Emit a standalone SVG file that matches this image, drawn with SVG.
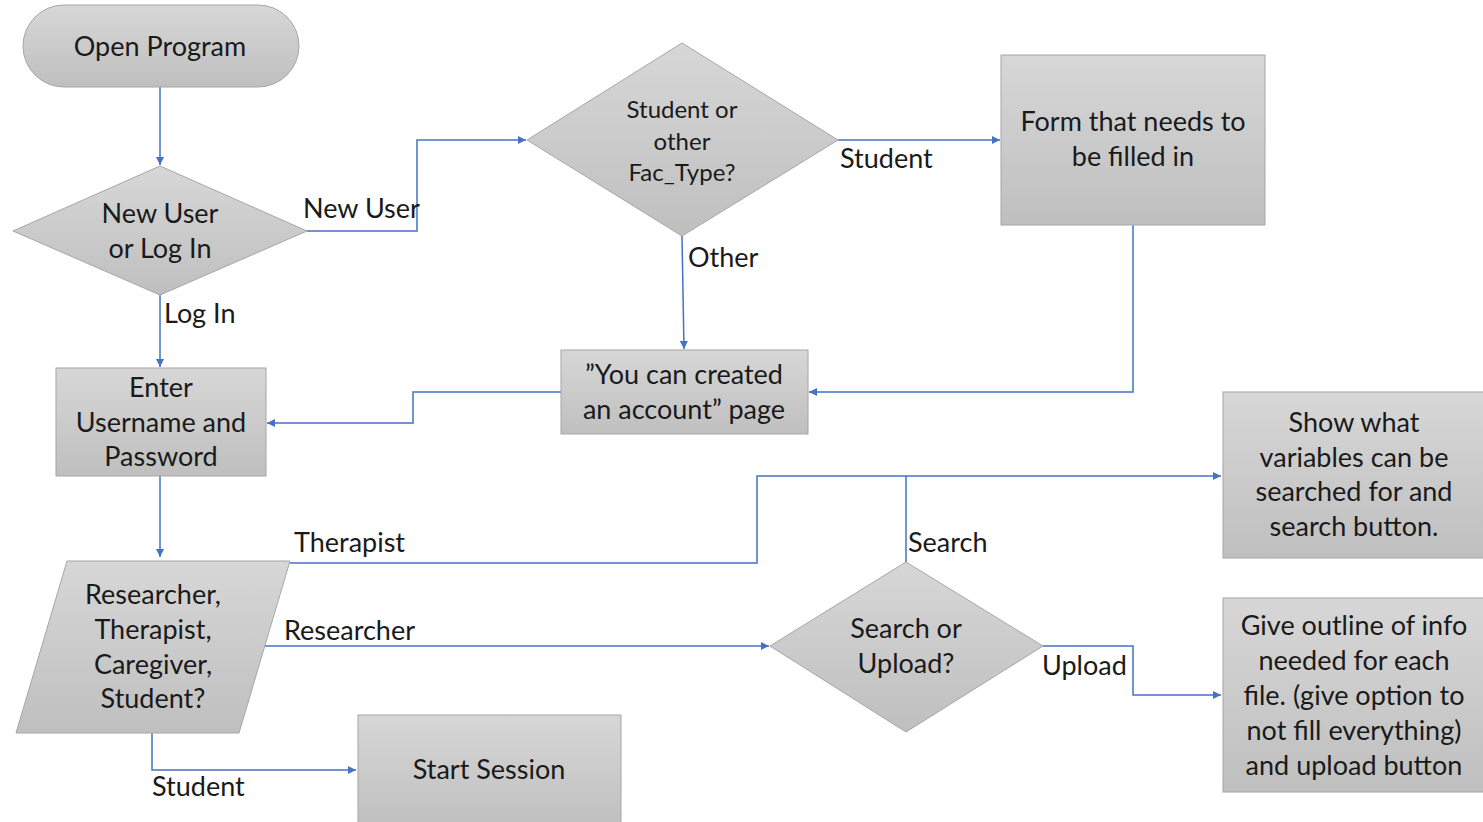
<svg xmlns="http://www.w3.org/2000/svg" width="1483" height="822" viewBox="0 0 1483 822">
<defs>
<linearGradient id="g" x1="0" y1="0" x2="0" y2="1">
<stop offset="0" stop-color="#d7d7d7"/>
<stop offset="1" stop-color="#bfbfbf"/>
</linearGradient>
<marker id="a" viewBox="0 0 10 10" refX="10" refY="5" markerWidth="9" markerHeight="8" markerUnits="userSpaceOnUse" orient="auto">
<path d="M0,0 L10,5 L0,10 z" fill="#4472c4"/>
</marker>
<style>
.s{fill:url(#g);stroke:#a6a6a6;stroke-width:1}
.t{font-family:Lato,"Liberation Sans",sans-serif;font-size:27px;fill:#1a1a1a;text-anchor:middle}
.l{font-family:Lato,"Liberation Sans",sans-serif;font-size:27px;fill:#1a1a1a}
.c{fill:none;stroke:#4472c4;stroke-width:1.5}
</style>
</defs>
<rect width="1483" height="822" fill="#ffffff"/>
<g id="connectors">
<path class="c" d="M160,87 V165" marker-end="url(#a)"/>
<path class="c" d="M307,231 H417 V140 H526" marker-end="url(#a)"/>
<path class="c" d="M838,140 H1000" marker-end="url(#a)"/>
<path class="c" d="M1133,225 V392 H809" marker-end="url(#a)"/>
<path class="c" d="M682,236 L684,349" marker-end="url(#a)"/>
<path class="c" d="M561,392 H413 V423 H267" marker-end="url(#a)"/>
<path class="c" d="M160,295 V367" marker-end="url(#a)"/>
<path class="c" d="M160,476 V557" marker-end="url(#a)"/>
<path class="c" d="M290,563 H757 V476 H1221" marker-end="url(#a)"/>
<path class="c" d="M906,562 V476"/>
<path class="c" d="M262,646 H769" marker-end="url(#a)"/>
<path class="c" d="M1043,646 H1133 V695 H1221" marker-end="url(#a)"/>
<path class="c" d="M152,733 V770 H356" marker-end="url(#a)"/>
<text class="l" x="303" y="218">New User</text>
<text class="l" x="840" y="168">Student</text>
<text class="l" x="688" y="267">Other</text>
<text class="l" x="164" y="323">Log In</text>
<text class="l" x="294" y="552">Therapist</text>
<text class="l" x="908" y="552">Search</text>
<text class="l" x="284" y="640">Researcher</text>
<text class="l" x="1042" y="675">Upload</text>
<text class="l" x="152" y="796">Student</text>
</g>
<g id="open-program">
<rect class="s" x="23" y="5" width="276" height="82" rx="41" ry="41"/>
<text class="t" x="160" y="56">Open Program</text>
</g>
<g id="new-user-or-log-in">
<polygon class="s" points="13,231 160,166 307,231 160,295"/>
<text class="t" x="160" y="223">New User</text>
<text class="t" x="160" y="258">or Log In</text>
</g>
<g id="student-or-other">
<polygon class="s" points="527,140 682,43 838,140 682,236"/>
<text class="t" x="682" y="118" style="font-size:24px">Student or</text>
<text class="t" x="682" y="150" style="font-size:24px">other</text>
<text class="t" x="682" y="181" style="font-size:24px">Fac_Type?</text>
</g>
<g id="form">
<rect class="s" x="1001" y="55" width="264" height="170"/>
<text class="t" x="1133" y="131">Form that needs to</text>
<text class="t" x="1133" y="166">be filled in</text>
</g>
<g id="you-can-created">
<rect class="s" x="561" y="350" width="247" height="84"/>
<text class="t" x="684" y="384">”You can created</text>
<text class="t" x="684" y="419">an account” page</text>
</g>
<g id="enter-username">
<rect class="s" x="56" y="368" width="210" height="108"/>
<text class="t" x="161" y="397">Enter</text>
<text class="t" x="161" y="432">Username and</text>
<text class="t" x="161" y="466">Password</text>
</g>
<g id="user-type">
<polygon class="s" points="67,561 290,561 239,733 16,733"/>
<text class="t" x="153" y="604">Researcher,</text>
<text class="t" x="153" y="639">Therapist,</text>
<text class="t" x="153" y="674">Caregiver,</text>
<text class="t" x="153" y="708">Student?</text>
</g>
<g id="search-or-upload">
<polygon class="s" points="770,646 906,562 1043,646 906,732"/>
<text class="t" x="906" y="638">Search or</text>
<text class="t" x="906" y="673">Upload?</text>
</g>
<g id="show-variables">
<rect class="s" x="1223" y="392" width="262" height="166"/>
<text class="t" x="1354" y="432">Show what</text>
<text class="t" x="1354" y="467">variables can be</text>
<text class="t" x="1354" y="501">searched for and</text>
<text class="t" x="1354" y="536">search button.</text>
</g>
<g id="give-outline">
<rect class="s" x="1223" y="598" width="262" height="194"/>
<text class="t" x="1354" y="635">Give outline of info</text>
<text class="t" x="1354" y="670">needed for each</text>
<text class="t" x="1354" y="705">file. (give option to</text>
<text class="t" x="1354" y="740">not fill everything)</text>
<text class="t" x="1354" y="775">and upload button</text>
</g>
<g id="start-session">
<rect class="s" x="358" y="715" width="263" height="112"/>
<text class="t" x="489" y="779">Start Session</text>
</g>
</svg>
